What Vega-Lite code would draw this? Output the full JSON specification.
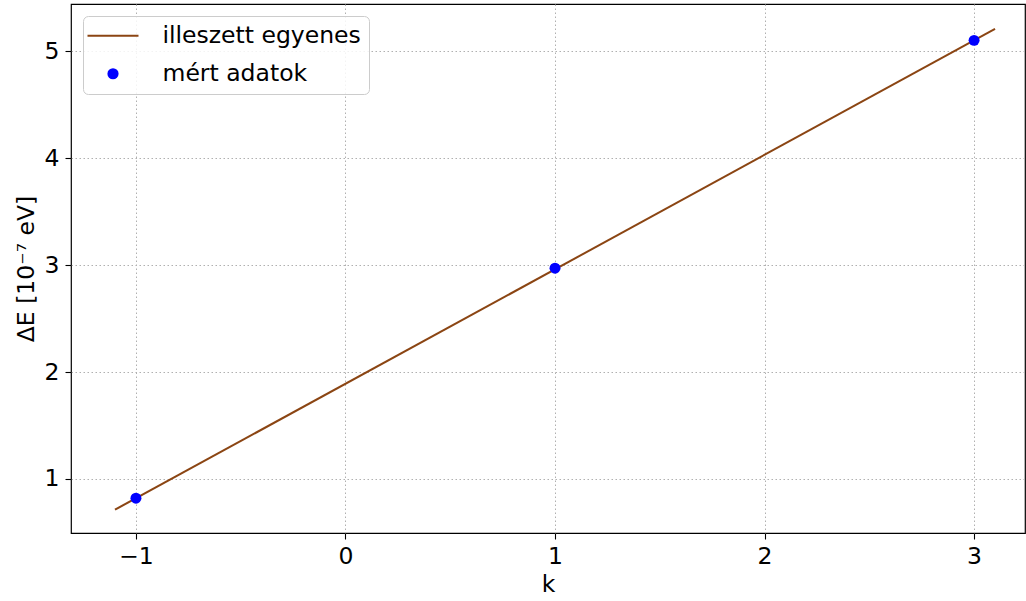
{
  "$schema": "https://vega.github.io/schema/vega-lite/v6.json",
  "width": 954,
  "height": 529,
  "autosize": {"type": "none"},
  "padding": {"left": 71, "top": 4, "right": 1, "bottom": 68},
  "background": "white",
  "config": {
    "font": "DejaVu Sans",
    "view": {"stroke": "black", "strokeWidth": 1.2},
    "axis": {
      "labelFont": "DejaVu Sans",
      "titleFont": "DejaVu Sans",
      "labelFontSize": 23.5,
      "titleFontSize": 23.5,
      "titleFontWeight": "normal",
      "labelColor": "black",
      "titleColor": "black",
      "tickColor": "black",
      "tickSize": 6,
      "tickWidth": 1.1,
      "domain": false,
      "grid": true,
      "gridColor": "#b0b0b0",
      "gridDash": [1.5, 2.5],
      "gridWidth": 1,
      "labelPadding": 5,
      "format": "d"
    },
    "legend": {
      "orient": "none",
      "legendX": 12,
      "legendY": 12,
      "labelFont": "DejaVu Sans",
      "labelFontSize": 23.5,
      "labelColor": "black",
      "labelLimit": 0,
      "fillColor": "rgba(255,255,255,0.85)",
      "strokeColor": "#cccccc",
      "cornerRadius": 5,
      "padding": 8,
      "rowPadding": 13,
      "symbolSize": 100,
      "symbolStrokeWidth": 2,
      "labelOffset": 38,
      "symbolOffset": 10,
      "titlePadding": 0
    }
  },
  "datasets": {
    "fit": [
      {"k": -1.1, "dE": 0.713, "series": "illeszett egyenes"},
      {"k": 3.1, "dE": 5.207, "series": "illeszett egyenes"}
    ],
    "meas": [
      {"k": -1, "dE": 0.82, "series": "mért adatok"},
      {"k": 1, "dE": 2.97, "series": "mért adatok"},
      {"k": 3, "dE": 5.10, "series": "mért adatok"}
    ]
  },
  "layer": [
    {
      "data": {"name": "fit"},
      "mark": {"type": "line", "strokeWidth": 2, "clip": false},
      "encoding": {
        "x": {"field": "k", "type": "quantitative", "scale": {"domain": [-1.31, 3.243], "nice": false, "zero": false}, "axis": {"values": [-1, 0, 1, 2, 3], "title": "k", "titlePadding": 5}},
        "y": {"field": "dE", "type": "quantitative", "scale": {"domain": [0.495, 5.44], "nice": false, "zero": false}, "axis": {"values": [1, 2, 3, 4, 5], "title": "ΔE [10⁻⁷ eV]", "titlePadding": 6, "labelPadding": 6}},
        "color": {
          "field": "series", "type": "nominal",
          "scale": {"domain": ["illeszett egyenes", "mért adatok"], "range": ["#8B4513", "#0000ff"]},
          "legend": {
            "title": null,
            "encode": {
              "symbols": {
                "update": {
                  "stroke": {"signal": "datum.value === 'illeszett egyenes' ? '#8B4513' : '#0000ff'"},
                  "strokeWidth": {"signal": "datum.value === 'illeszett egyenes' ? 2 : 0"},
                  "size": {"signal": "datum.value === 'illeszett egyenes' ? 2600 : 125"},
                  "x": {"value": 22}
                }
              }
            }
          }
        }
      }
    },
    {
      "data": {"name": "meas"},
      "mark": {"type": "point", "filled": true, "opacity": 1, "size": 120},
      "encoding": {
        "x": {"field": "k", "type": "quantitative"},
        "y": {"field": "dE", "type": "quantitative"},
        "color": {"field": "series", "type": "nominal"},
        "shape": {"field": "series", "type": "nominal", "scale": {"domain": ["illeszett egyenes", "mért adatok"], "range": ["stroke", "circle"]}, "legend": {"title": null}}
      }
    }
  ],
  "resolve": {"scale": {"color": "shared"}}
}
